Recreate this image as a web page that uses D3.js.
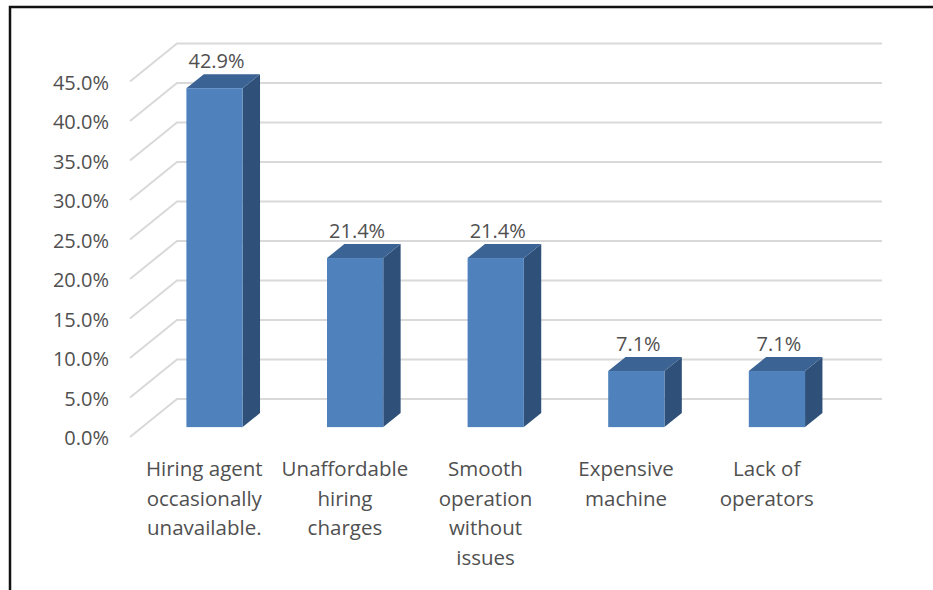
<!DOCTYPE html>
<html>
<head>
<meta charset="utf-8">
<script src="https://cdn.jsdelivr.net/npm/d3@7"></script>
<style>
  html, body { margin: 0; padding: 0; background: #fff; }
  svg { display: block; }
  text { font-family: "Open Sans", "Lato", sans-serif; fill: #505050; }
</style>
</head>
<body>
<svg id="chart" width="933" height="590"></svg>
<script>
// Survey responses: problems faced with machine hiring
const categories = [
  ["Hiring agent", "occasionally", "unavailable."],
  ["Unaffordable", "hiring", "charges"],
  ["Smooth", "operation", "without", "issues"],
  ["Expensive", "machine"],
  ["Lack of", "operators"]
];
const values = [42.9, 21.4, 21.4, 7.1, 7.1];
const yTicks = [0, 5, 10, 15, 20, 25, 30, 35, 40, 45];

const svg = d3.select("#chart");

// oblique 3D projection: depth vector for the full floor depth
const depthX = 47, depthY = -38;
const barZ0 = 0.26, barZ1 = 0.63;

const keys = categories.map((c, i) => i);
const x = d3.scaleBand().domain(keys).range([132, 835]).paddingInner(0.6).paddingOuter(0.3);
const y = d3.scaleLinear().domain([0, 45]).range([437, 437 - 45 * 7.9]);
const backRight = 882;

// frame lines
svg.append("path")
  .attr("d", "M10,590 L10,7 L933,7")
  .attr("fill", "none").attr("stroke", "#111").attr("stroke-width", 2.5);

// gridlines: side wall diagonal + back wall horizontal
const grid = svg.append("g");
yTicks.forEach(t => {
  const fx = 130, fy = y(t);
  grid.append("path")
    .attr("d", `M${fx},${fy} L${fx + depthX},${fy + depthY} L${backRight},${fy + depthY}`)
    .attr("fill", "none").attr("stroke", "#d9d9d9").attr("stroke-width", 2);
});

// y axis labels
svg.append("g").selectAll("text").data(yTicks).join("text")
  .attr("x", 109).attr("y", d => y(d) + 1)
  .attr("dy", "0.35em")
  .attr("text-anchor", "end")
  .style("font-size", "20px")
  .text(d => d.toFixed(1) + "%");

// bars
const bars = svg.append("g");
values.forEach((v, i) => {
  const ox = barZ0 * depthX, oy = barZ0 * depthY;
  const dx = (barZ1 - barZ0) * depthX, dy = (barZ1 - barZ0) * depthY;
  const x0 = x(i) + ox, x1 = x0 + x.bandwidth();
  const yb = y(0) + oy, yt = y(v) + oy;
  // side face
  bars.append("path")
    .attr("d", `M${x1},${yb} L${x1 + dx},${yb + dy} L${x1 + dx},${yt + dy} L${x1},${yt} Z`)
    .attr("fill", "#2F5179");
  // top face
  bars.append("path")
    .attr("d", `M${x0},${yt} L${x0 + dx},${yt + dy} L${x1 + dx},${yt + dy} L${x1},${yt} Z`)
    .attr("fill", "#3B6394");
  // front face
  bars.append("rect")
    .attr("x", x0).attr("y", yt)
    .attr("width", x.bandwidth()).attr("height", yb - yt)
    .attr("fill", "#4F81BD");
  // value label
  svg.append("text")
    .attr("x", (x0 + x1) / 2 + 2).attr("y", yt - 20)
    .attr("text-anchor", "middle")
    .style("font-size", "20px")
    .text(v.toFixed(1) + "%");
});

// category labels
const catG = svg.append("g");
categories.forEach((lines, i) => {
  const cx = x(i) + x.bandwidth() / 2 + 2;
  const t = catG.append("text")
    .attr("x", cx)
    .attr("y", 476)
    .attr("text-anchor", "middle")
    .style("font-size", "20.5px");
  lines.forEach((ln, j) => {
    t.append("tspan").attr("x", cx).attr("dy", j === 0 ? 0 : 29.5).text(ln);
  });
});
</script>
</body>
</html>
